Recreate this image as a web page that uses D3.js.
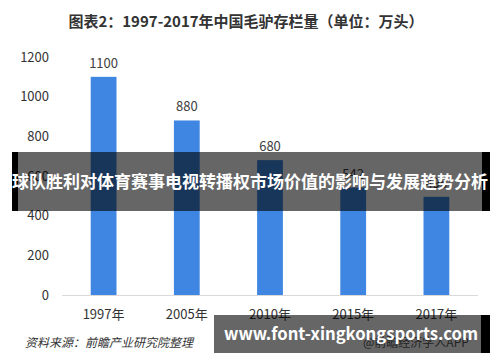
<!DOCTYPE html>
<html>
<head>
  <meta charset="utf-8">
  <script src="https://d3js.org/d3.v7.min.js"></script>
  <style>
    body { margin: 0; background: #fff; }
    svg { display: block; font-family: "Noto Sans CJK SC", "Noto Sans", sans-serif; }
  </style>
</head>
<body>
<div id="chart"></div>
<script>
  const years = ["1997年", "2005年", "2010年", "2015年", "2017年"];
  const values = [1100, 880, 680, 542, 495];
  const yTicks = [0, 200, 400, 600, 800, 1000, 1200];

  const width = 500;
  const height = 362;
  const margin = { top: 57, right: 22, bottom: 67, left: 62 };

  const svg = d3.select("#chart")
    .append("svg")
    .attr("width", width)
    .attr("height", height);

  // title
  svg.append("text")
    .attr("x", 246)
    .attr("y", 27)
    .attr("text-anchor", "middle")
    .style("font-size", "15px")
    .style("font-weight", "bold")
    .style("fill", "#333")
    .text("图表2：1997-2017年中国毛驴存栏量（单位：万头）");

  const x = d3.scaleBand()
    .domain(years)
    .range([margin.left, width - margin.right])
    .paddingInner(0.69)
    .paddingOuter(0.345);

  const y = d3.scaleLinear()
    .domain([0, 1200])
    .range([height - margin.bottom, margin.top]);

  // y labels
  svg.append("g")
    .selectAll("text")
    .data(yTicks)
    .join("text")
    .attr("x", 49)
    .attr("y", d => y(d))
    .attr("dy", "0.35em")
    .attr("text-anchor", "end")
    .style("font-size", "13px")
    .style("fill", "#333")
    .text(d => d);

  // baseline
  svg.append("line")
    .attr("x1", margin.left)
    .attr("x2", width - margin.right)
    .attr("y1", y(0) + 0.5)
    .attr("y2", y(0) + 0.5)
    .attr("stroke", "#d9d9d9")
    .attr("stroke-width", 1);

  // bars
  svg.append("g")
    .selectAll("rect")
    .data(values)
    .join("rect")
    .attr("x", (d, i) => x(years[i]))
    .attr("y", d => y(d))
    .attr("width", x.bandwidth())
    .attr("height", d => y(0) - y(d))
    .attr("fill", "#3e86e1");

  // value labels
  svg.append("g")
    .selectAll("text")
    .data(values)
    .join("text")
    .attr("x", (d, i) => x(years[i]) + x.bandwidth() / 2)
    .attr("y", d => y(d) - 9)
    .attr("text-anchor", "middle")
    .style("font-size", "13px")
    .style("fill", "#404040")
    .text(d => d);

  // x labels
  svg.append("g")
    .selectAll("text")
    .data(years)
    .join("text")
    .attr("x", d => x(d) + x.bandwidth() / 2)
    .attr("y", y(0) + 24)
    .attr("text-anchor", "middle")
    .style("font-size", "13px")
    .style("fill", "#333")
    .text(d => d);

  // source
  svg.append("text")
    .attr("x", 25)
    .attr("y", 347)
    .style("font-size", "12px")
    .style("font-style", "italic")
    .style("fill", "#333")
    .text("资料来源：前瞻产业研究院整理");

  svg.append("text")
    .attr("x", 363)
    .attr("y", 347)
    .style("font-size", "12px")
    .style("fill", "#555")
    .text("@前瞻经济学人APP");

  // overlay banners
  svg.append("rect")
    .attr("x", 12).attr("y", 152).attr("width", 478).attr("height", 59)
    .attr("fill", "#000").attr("fill-opacity", 0.6);
  svg.append("rect")
    .attr("x", 12).attr("y", 152).attr("width", 6).attr("height", 59)
    .attr("fill", "#000");
  svg.append("rect")
    .attr("x", 482).attr("y", 152).attr("width", 8).attr("height", 59)
    .attr("fill", "#000");
  svg.append("text")
    .attr("x", 250)
    .attr("y", 182)
    .attr("dy", "0.35em")
    .attr("text-anchor", "middle")
    .attr("textLength", 476)
    .attr("lengthAdjust", "spacingAndGlyphs")
    .style("font-size", "17.5px")
    .style("font-weight", "bold")
    .style("fill", "#fff")
    .text("球队胜利对体育赛事电视转播权市场价值的影响与发展趋势分析");

  svg.append("rect")
    .attr("x", 214).attr("y", 315).attr("width", 276).attr("height", 38)
    .attr("fill", "#000").attr("fill-opacity", 0.6);
  svg.append("rect")
    .attr("x", 481).attr("y", 315).attr("width", 9).attr("height", 38)
    .attr("fill", "#000");
  svg.append("text")
    .attr("x", 351)
    .attr("y", 334)
    .attr("dy", "0.35em")
    .attr("text-anchor", "middle")
    .attr("textLength", 254)
    .attr("lengthAdjust", "spacingAndGlyphs")
    .style("font-size", "17px")
    .style("font-weight", "bold")
    .style("fill", "#fff")
    .text("www.font-xingkongsports.com");
</script>
</body>
</html>
